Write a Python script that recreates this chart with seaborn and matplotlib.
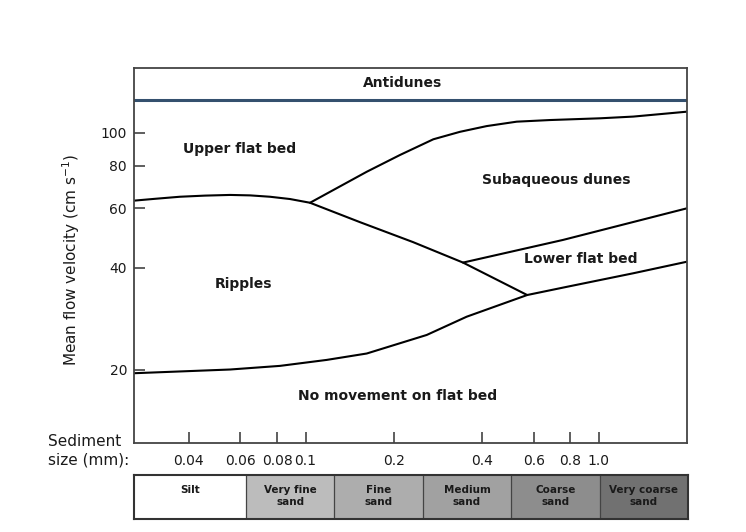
import matplotlib
matplotlib.use("Agg")
import matplotlib.pyplot as plt
import seaborn as sns
from matplotlib.ticker import NullLocator

# ---------------- data ----------------
# boundary between ripples and upper flat bed / dunes (mm, cm/s)
ripple_top_size = [0.026, 0.0307, 0.0373, 0.0454, 0.0553, 0.0647, 0.0756, 0.0885,
                   0.1036, 0.1534, 0.2325, 0.3445, 0.57]
ripple_top_vel = [63.1, 63.9, 64.8, 65.3, 65.6, 65.4, 64.8, 63.8,
                  62.2, 54.5, 47.6, 41.4, 33.2]

# boundary between subaqueous dunes and upper flat bed
dune_top_size = [0.1036, 0.1617, 0.21, 0.2728, 0.3364, 0.4148, 0.5252, 0.682, 1.010, 1.312, 2.0]
dune_top_vel = [62.2, 76.8, 86.1, 95.8, 100.8, 104.8, 108.0, 109.2, 110.5, 111.8, 115.6]

# boundary between lower flat bed and dunes
lower_flat_size = [0.3445, 0.7553, 2.0]
lower_flat_vel = [41.4, 48.3, 59.9]

# threshold of movement
threshold_size = [0.026, 0.0553, 0.0818, 0.1181, 0.1617, 0.259, 0.3546, 0.57, 0.7777, 1.312, 2.0]
threshold_vel = [19.5, 20.0, 20.5, 21.35, 22.3, 25.3, 28.65, 33.2, 35.1, 38.5, 41.65]

# antidune threshold
antidune_vel = 125.0

# region labels
region_names = ["Antidunes", "Upper flat bed", "Subaqueous dunes", "Lower flat bed",
                "Ripples", "No movement on flat bed"]
region_size = [0.215, 0.0598, 0.719, 0.868, 0.0612, 0.2067]
region_vel = [140.5, 89.7, 72.6, 42.3, 35.8, 16.7]

# axis ticks
x_ticks = [0.04, 0.06, 0.08, 0.1, 0.2, 0.4, 0.6, 0.8, 1.0]
x_tick_labels = ["0.04", "0.06", "0.08", "0.1", "0.2", "0.4", "0.6", "0.8", "1.0"]
y_ticks = [20, 40, 60, 80, 100]
y_tick_labels = ["20", "40", "60", "80", "100"]

# grain-size classes
class_names = ["Silt", "Very fine\nsand", "Fine\nsand", "Medium\nsand", "Coarse\nsand", "Very coarse\nsand"]
class_edges = [0.004, 0.0625, 0.125, 0.25, 0.5, 1.0, 2.0]
class_colors = ["#ffffff", "#bcbcbc", "#adadad", "#a1a1a1", "#8d8d8d", "#717171"]

x_limits = (0.026, 2.0)
y_limits = (12.13, 155.6)

# ---------------- figure ----------------
sns.set_style("white")
plt.rcParams["font.family"] = ["DejaVu Sans"]

W, H = 746, 532
fig = plt.figure(figsize=(W / 100, H / 100), dpi=100)
ax = fig.add_axes([134 / W, 1 - 443 / H, 553 / W, 375 / H])
axb = fig.add_axes([134 / W, 1 - 519 / H, 554 / W, 44 / H])

ax.set_xscale("log")
ax.set_yscale("log")
ax.set_xlim(*x_limits)
ax.set_ylim(*y_limits)

line_kw = dict(color="black", linewidth=1.5, sort=False, estimator=None, ax=ax)
sns.lineplot(x=ripple_top_size, y=ripple_top_vel, **line_kw)
sns.lineplot(x=dune_top_size, y=dune_top_vel, **line_kw)
sns.lineplot(x=lower_flat_size, y=lower_flat_vel, **line_kw)
sns.lineplot(x=threshold_size, y=threshold_vel, **line_kw)
ax.axhline(antidune_vel, color="#34506e", linewidth=2.2)

for name, xs, ys in zip(region_names, region_size, region_vel):
    ax.text(xs, ys, name, ha="center", va="center", fontsize=10,
            fontweight="bold", color="#1a1a1a")

ax.set_xticks(x_ticks)
ax.set_xticklabels(x_tick_labels)
ax.set_yticks(y_ticks)
ax.set_yticklabels(y_tick_labels)
ax.xaxis.set_minor_locator(NullLocator())
ax.yaxis.set_minor_locator(NullLocator())
ax.tick_params(axis="both", which="major", direction="in", length=8, width=1.1,
               color="#333333", labelsize=10, labelcolor="#1a1a1a",
               bottom=True, left=True, top=False, right=False)
ax.tick_params(axis="x", pad=8)
ax.tick_params(axis="y", pad=5)
for s in ax.spines.values():
    s.set_color("#444444")
    s.set_linewidth(1.3)

ax.set_xlabel("")
ax.set_ylabel("Mean flow velocity (cm s$^{-1}$)", fontsize=11, color="#1a1a1a")
ax.yaxis.set_label_coords(-0.094, 0.488)

fig.text(48 / W, 1 - 450.5 / H, "Sediment\nsize (mm):", ha="left", va="center",
         fontsize=11, linespacing=1.3, color="#1a1a1a")

# grain-size bar
axb.set_xscale("log")
axb.set_xlim(*x_limits)
axb.set_ylim(0, 1)
for i, (name, col) in enumerate(zip(class_names, class_colors)):
    lo, hi = class_edges[i], class_edges[i + 1]
    axb.axvspan(lo, hi, color=col, linewidth=0)
    lo_vis = max(lo, x_limits[0])
    xc = (lo_vis * hi) ** 0.5
    yc = 0.66 if "\n" not in name else 0.52
    axb.text(xc, yc, name, ha="center", va="center", fontsize=7.5,
             fontweight="bold", color="#1a1a1a", linespacing=1.3)
    if i > 0:
        axb.axvline(lo, color="#444444", linewidth=0.9)
axb.set_xticks([])
axb.set_yticks([])
axb.xaxis.set_minor_locator(NullLocator())
axb.tick_params(bottom=False, left=False, labelbottom=False, labelleft=False)
for s in axb.spines.values():
    s.set_color("#333333")
    s.set_linewidth(1.5)

fig.savefig("out.png", dpi=100)
